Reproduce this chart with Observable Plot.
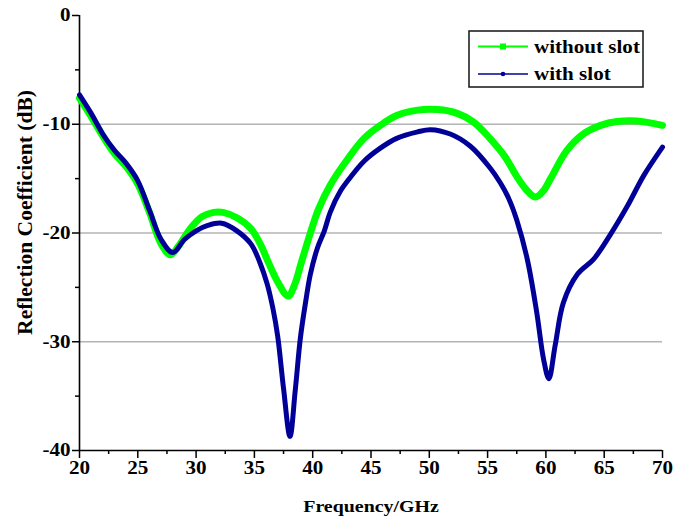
<!DOCTYPE html>
<html><head><meta charset="utf-8">
<script src="https://cdn.jsdelivr.net/npm/d3@7"></script>
<script src="https://cdn.jsdelivr.net/npm/@observablehq/plot@0.6"></script>
<style>body{margin:0;background:#fff}#chart{width:674px;height:523px}</style>
</head><body><div id="chart"></div>
<script>
const seriesNames = ["without slot", "with slot"];
const seriesColors = ["#00ff00", "#000099"];

const freqWithout = [20,21,22,23,24,25,26,27,27.8,28.5,29.5,30.5,31.5,32.3,33.5,34.7,35.5,36.2,37,37.9,38.5,39,39.8,40.5,41.5,43,44.4,45.8,47.2,49,50.7,52.4,53.8,55.2,56.5,57.5,58.3,59.1,59.8,60.4,61.8,63.2,64.7,66.1,67.8,70];
const s11Without = [-7.6,-9.3,-11.1,-12.7,-13.9,-15.5,-18.1,-21.0,-22.0,-21.2,-19.6,-18.5,-18.1,-18.1,-18.6,-19.6,-21.0,-22.7,-24.5,-25.8,-24.6,-22.8,-20.0,-17.8,-15.6,-13.2,-11.3,-10.1,-9.2,-8.7,-8.65,-9.0,-9.8,-11.3,-13.0,-14.8,-16.0,-16.7,-16.1,-15.0,-12.4,-10.9,-10.1,-9.75,-9.7,-10.1];

const freqWith = [20,21,22,23,24,25,26,27,28,29,30,31,32.2,33.5,34.7,35.5,36.1,36.6,37,37.5,38.05,38.5,38.95,39.4,39.8,40.4,41,41.5,42.4,43,44.4,45.8,47.2,49,50.1,51.8,53.5,55.2,56.1,56.8,57.5,58.4,59.2,59.8,60.25,60.8,61.5,62.7,64.1,65.5,67,68.4,70];
const s11With = [-7.3,-9.0,-10.9,-12.4,-13.6,-15.2,-17.9,-20.6,-21.8,-20.6,-19.8,-19.3,-19.1,-19.8,-21.0,-22.8,-24.7,-27.0,-29.5,-34.3,-38.7,-34.5,-29.6,-26.3,-23.8,-21.4,-19.8,-18.1,-16.1,-15.2,-13.4,-12.2,-11.3,-10.7,-10.5,-10.9,-12.0,-14.0,-15.4,-16.8,-18.8,-22.4,-27.2,-31.6,-33.4,-30.3,-26.4,-23.8,-22.4,-20.2,-17.5,-14.7,-12.1];

const xTicks = [20,25,30,35,40,45,50,55,60,65,70];
const xMinor = [22.5,27.5,32.5,37.5,42.5,47.5,52.5,57.5,62.5,67.5];
const yTicks = [0,-10,-20,-30,-40];
const yMinor = [-5,-15,-25,-35];
const gridValues = [-10,-20,-30];
const xLabel = "Frequency/GHz";
const yLabel = "Reflection Coefficient (dB)";

const dataWithout = freqWithout.map((f, i) => ({f, v: s11Without[i]}));
const dataWith = freqWith.map((f, i) => ({f, v: s11With[i]}));

const font = "'Liberation Serif', 'Times New Roman', serif";

function legendMark() {
  const g = d3.create("svg:g");
  g.append("rect").attr("x", 469).attr("y", 31).attr("width", 174).attr("height", 56)
    .attr("fill", "white").attr("stroke", "#222").attr("stroke-width", 1.6);
  const rows = [46.5, 74];
  seriesNames.forEach((name, i) => {
    const y = rows[i];
    g.append("line").attr("x1", 478).attr("x2", 528).attr("y1", y).attr("y2", y)
      .attr("stroke", seriesColors[i]).attr("stroke-width", i === 0 ? 2 : 1.6);
    if (i === 0) {
      g.append("rect").attr("x", 500).attr("y", y - 3).attr("width", 6).attr("height", 6).attr("fill", seriesColors[i]);
    } else {
      g.append("circle").attr("cx", 503).attr("cy", y).attr("r", 2.3).attr("fill", seriesColors[i]);
    }
    g.append("text").attr("x", 534).attr("y", y).attr("dy", "0.35em").attr("text-anchor", "start")
      .attr("font-size", 18).attr("font-weight", "bold").attr("fill", "#000").text(name);
  });
  return g.node();
}

function yLabelMark(index, scales, values, dims) {
  const cy = dims.marginTop + (dims.height - dims.marginTop - dims.marginBottom) / 2 - 20;
  const g = d3.create("svg:g");
  g.append("text").attr("transform", `translate(24,${cy}) rotate(-90)`)
    .attr("text-anchor", "middle").attr("dy", "0.35em")
    .attr("font-size", 21.5).attr("font-weight", "bold").attr("fill", "#000").text(yLabel);
  return g.node();
}

const chart = Plot.plot({
  width: 674,
  height: 523,
  marginLeft: 79,
  marginRight: 12,
  marginTop: 15,
  marginBottom: 73,
  x: {domain: [20, 70]},
  y: {domain: [-40, 0]},
  style: {fontFamily: font, fontWeight: "bold", fontSize: "18px", color: "#000", background: "white"},
  marks: [
    Plot.gridY({ticks: gridValues, stroke: "#b4b4b4", strokeOpacity: 1, strokeWidth: 1.6}),
    Plot.axisX({ticks: xTicks, tickSize: 8, tickPadding: 3, label: null, tickFormat: d => String(d), fontSize: 18, strokeWidth: 1.5}),
    Plot.axisX({ticks: xMinor, tickSize: 4, text: null, label: null, strokeWidth: 1.5}),
    Plot.axisY({ticks: yTicks, tickSize: 7, tickPadding: 2, label: null, tickFormat: d => d === 0 ? "0" : "-" + Math.abs(d), fontSize: 18, strokeWidth: 1.5}),
    Plot.axisY({ticks: yMinor, tickSize: 4, text: null, label: null, strokeWidth: 1.5}),
    Plot.ruleX([20], {stroke: "#000", strokeWidth: 1.6}),
    Plot.ruleY([-40], {stroke: "#000", strokeWidth: 1.6}),
    Plot.line(dataWithout, {x: "f", y: "v", stroke: seriesColors[0], strokeWidth: 7, curve: "catmull-rom"}),
    Plot.line(dataWith, {x: "f", y: "v", stroke: seriesColors[1], strokeWidth: 5, curve: "catmull-rom"}),
    Plot.text([xLabel], {frameAnchor: "bottom", dy: 61, text: d => d, fontSize: 17, fill: "#000"}),
    yLabelMark,
    legendMark
  ]
});

document.getElementById("chart").appendChild(chart);

// widen glyphs horizontally like the reference's stretched text
chart.querySelectorAll("text").forEach(t => {
  if (t.textContent === yLabel) return;
  const len = t.getComputedTextLength();
  if (len > 0) {
    t.setAttribute("textLength", (len * 1.17).toFixed(1));
    t.setAttribute("lengthAdjust", "spacingAndGlyphs");
  }
});
</script>
</body></html>
